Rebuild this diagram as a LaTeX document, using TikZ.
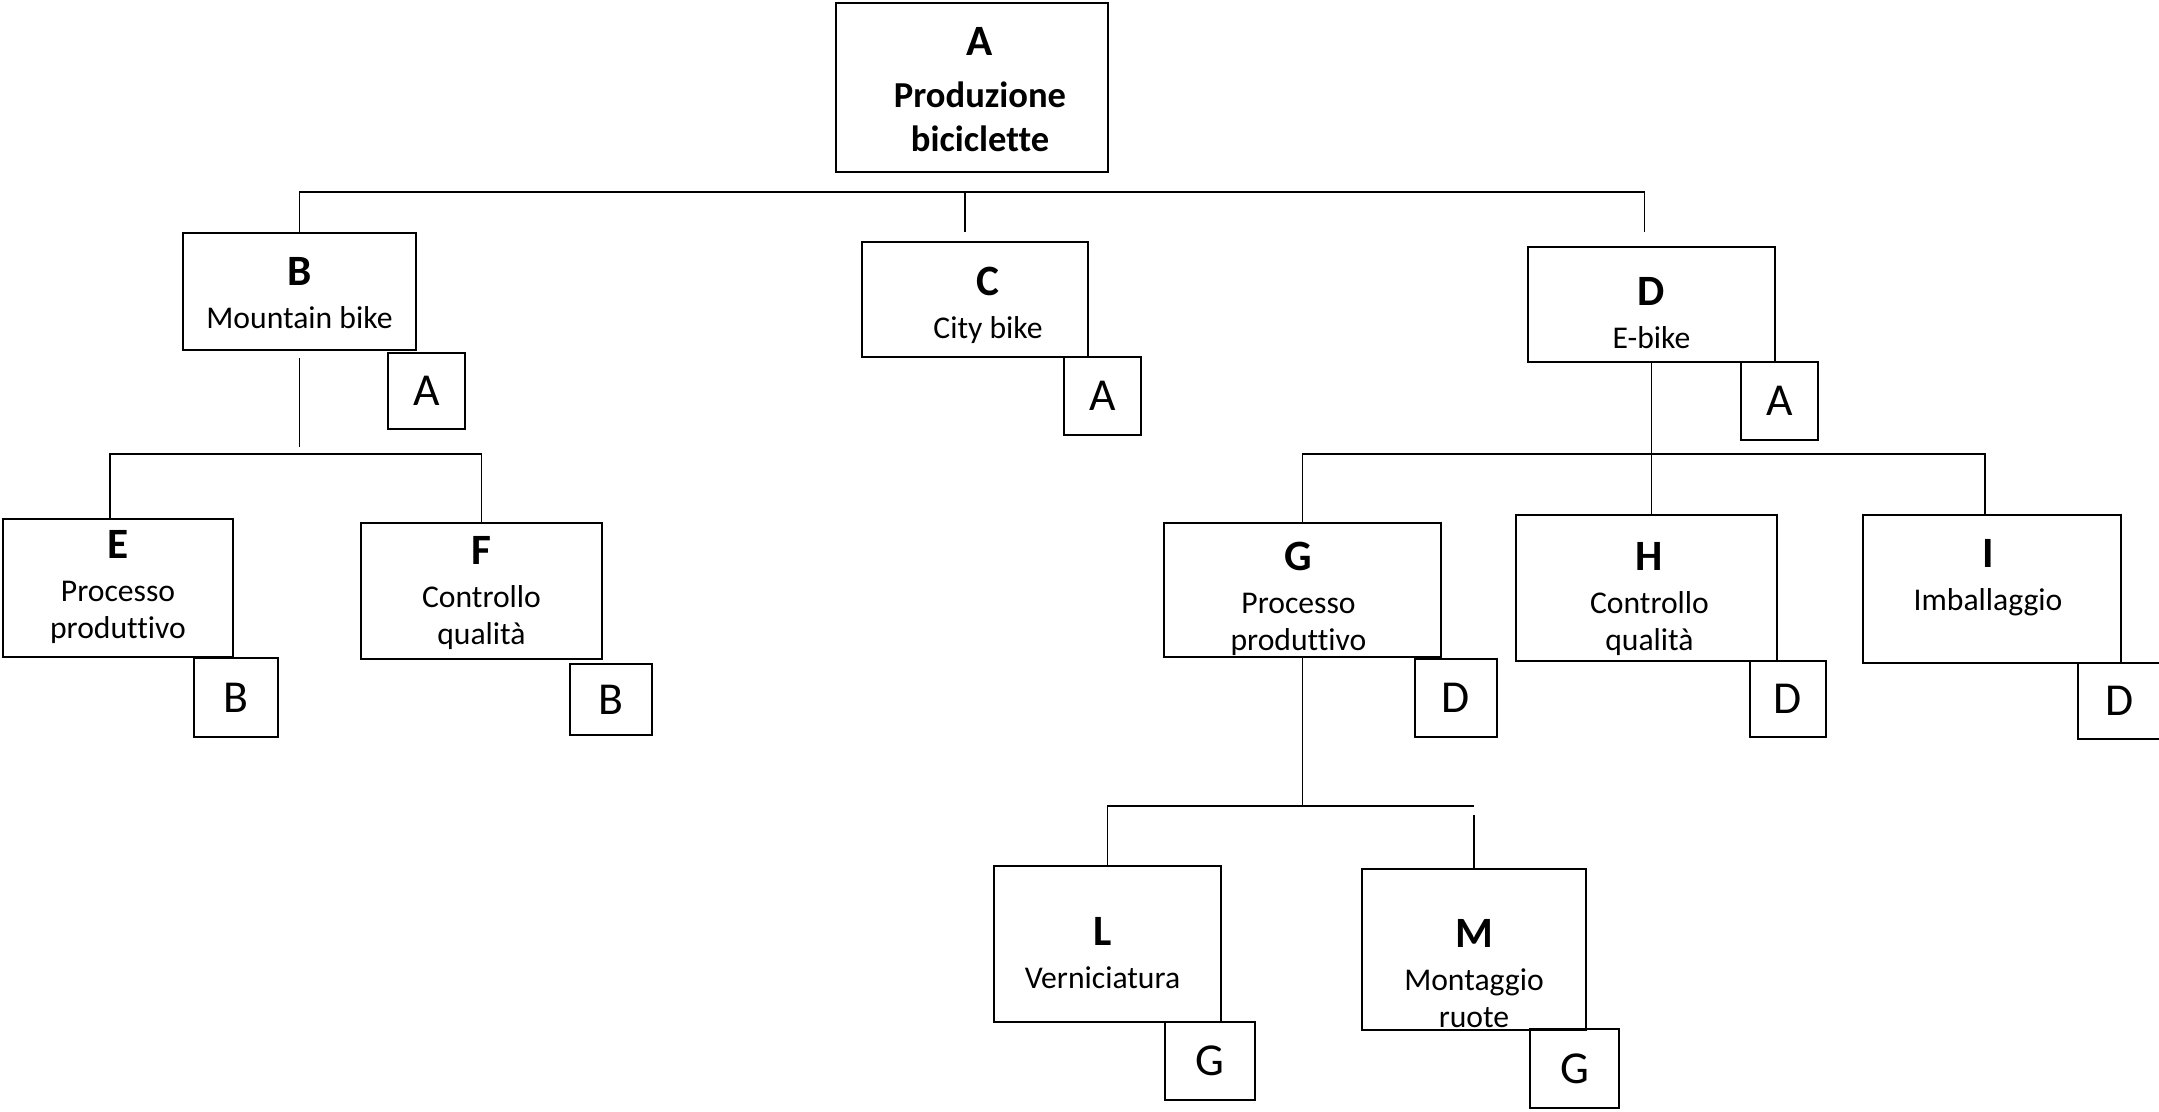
\documentclass[tikz,border=0pt]{standalone}
\usepackage{fontspec}
\setmainfont{Carlito}[Ligatures=NoCommon]
\usetikzlibrary{positioning}
\newcommand{\sigla}[1]{{\fontsize{12.3}{14}\selectfont\bfseries #1}}

\begin{document}
\begin{tikzpicture}[x=0.01cm,y=-0.01cm]
\tikzset{box/.style={draw,line width=0.8pt,inner sep=0pt}}
\tikzset{tag/.style={draw,line width=0.8pt,inner sep=0pt,font=\fontsize{13}{15}\selectfont}}
\tikzset{txt/.style={align=center,inner sep=0pt,font=\fontsize{9}{10.5}\selectfont}}
\tikzset{conn/.style={line width=0.4pt}}
\useasboundingbox (0,0) rectangle (2159,1111);

% boxes
\node[box,minimum width=2.72cm,minimum height=1.69cm] (a) at (972,87.5) {};
\node[box,minimum width=2.33cm,minimum height=1.17cm] (b) at (299.5,291.5) {};
\node[box,minimum width=2.26cm,minimum height=1.15cm] (c) at (975,299.5) {};
\node[box,minimum width=2.47cm,minimum height=1.15cm] (d) at (1651.5,304.5) {};
\node[box,minimum width=2.30cm,minimum height=1.38cm] (e) at (118,588) {};
\node[box,minimum width=2.41cm,minimum height=1.36cm] (f) at (481.5,591) {};
\node[box,minimum width=2.77cm,minimum height=1.34cm] (g) at (1302.5,590) {};
\node[box,minimum width=2.61cm,minimum height=1.46cm] (h) at (1646.5,588) {};
\node[box,minimum width=2.58cm,minimum height=1.48cm] (i) at (1992,589) {};
\node[box,minimum width=2.27cm,minimum height=1.56cm] (l) at (1107.5,944) {};
\node[box,minimum width=2.24cm,minimum height=1.61cm] (m) at (1474,949.5) {};

% texts
\node[txt,font=\fontsize{10.4}{12.5}\selectfont\bfseries,below=0.25cm of a.north,xshift=0.08cm] (a-lab) {\sigla{A}\\[2.3pt]Produzione\\biciclette};
\node[txt,below=0.25cm of b.north] (b-lab) {\sigla{B}\\[1.7pt]Mountain bike};
\node[txt,below=0.26cm of c.north,xshift=0.13cm] (c-lab) {\sigla{C}\\[1.7pt]City bike};
\node[txt,below=0.31cm of d.north] (d-lab) {\sigla{D}\\[1.7pt]E-bike};
\node[txt,below=0.12cm of e.north] (e-lab) {\sigla{E}\\[1.7pt]Processo\\produttivo};
\node[txt,below=0.14cm of f.north] (f-lab) {\sigla{F}\\[1.7pt]Controllo\\qualità};
\node[txt,below=0.20cm of g.north,xshift=-0.04cm] (g-lab) {\sigla{G}\\[1.7pt]Processo\\produttivo};
\node[txt,below=0.28cm of h.north,xshift=0.03cm] (h-lab) {\sigla{H}\\[1.7pt]Controllo\\qualità};
\node[txt,below=0.25cm of i.north,xshift=-0.04cm] (i-lab) {\sigla{I}\\[1.7pt]Imballaggio};
\node[txt,below=0.52cm of l.north,xshift=-0.05cm] (l-lab) {\sigla{L}\\[1.7pt]Verniciatura};
\node[txt,below=0.51cm of m.north] (m-lab) {\sigla{M}\\[1.7pt]Montaggio\\ruote};

% parent tags
\node[tag,minimum width=0.77cm,minimum height=0.76cm] (b-tag) at (426.5,391) {A};
\node[tag,minimum width=0.77cm,minimum height=0.78cm] (c-tag) at (1102.5,396) {A};
\node[tag,minimum width=0.77cm,minimum height=0.78cm] (d-tag) at (1779.5,401) {A};
\node[tag,minimum width=0.84cm,minimum height=0.79cm] (e-tag) at (236,697.5) {B};
\node[tag,minimum width=0.82cm,minimum height=0.71cm] (f-tag) at (611,699.5) {B};
\node[tag,minimum width=0.82cm,minimum height=0.78cm] (g-tag) at (1456,698) {D};
\node[tag,minimum width=0.76cm,minimum height=0.76cm] (h-tag) at (1788,699) {D};
\node[tag,minimum width=0.84cm,minimum height=0.76cm] (i-tag) at (2120,701) {D};
\node[tag,minimum width=0.90cm,minimum height=0.78cm] (l-tag) at (1210,1061) {G};
\node[tag,minimum width=0.89cm,minimum height=0.79cm] (m-tag) at (1574.5,1068.5) {G};

% connectors
\coordinate (j1) at (965,192);
\coordinate (j2) at (302,454);
\coordinate (j3) at (1649,454);
\coordinate (j4) at (1304,806);
\draw[conn] (b.north) |- (j1) -| ([shift={(-7,-14)}]d.north);
\draw[conn] (j1) -- ([shift={(-10,-9)}]c.north);
\draw[conn] ([yshift=-0.07cm]b.south) -- ([yshift=0.07cm]b.south |- j2);
\draw[conn] ([xshift=-0.08cm]e.north) |- (j2) -| (f.north);
\draw[conn] (d.south) -- (d.south |- h.north);
\draw[conn] (g.north) |- (j3) -| ([xshift=-0.07cm]i.north);
\draw[conn] (g.south) -- (g.south |- j4);
\draw[conn] (l.north) |- (j4) -- (m.north |- j4);
\draw[conn] ([yshift=-0.09cm]m.north |- j4) -- (m.north);
\end{tikzpicture}
\end{document}
